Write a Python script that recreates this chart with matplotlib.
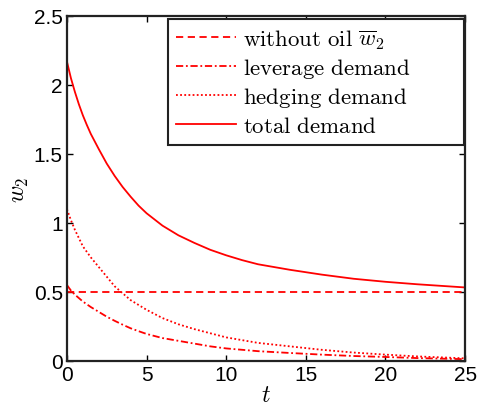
import matplotlib
matplotlib.use('Agg')
import matplotlib.pyplot as plt

plt.rcParams['mathtext.fontset'] = 'cm'
plt.rcParams['font.family'] = ['Liberation Sans', 'DejaVu Sans']

# time grid and demand components
t = [0, 0.25, 0.5, 0.75, 1, 1.25, 1.5, 2, 2.5, 3, 3.5, 4, 4.5, 5, 6, 7, 8, 9, 10,
     11, 12, 14, 16, 18, 20, 22, 25]
w_bar = [0.5] * len(t)
leverage = [0.55, 0.51, 0.48, 0.455, 0.43, 0.41, 0.39, 0.355, 0.32, 0.29, 0.262, 0.236,
            0.215, 0.195, 0.165, 0.145, 0.125, 0.105, 0.09, 0.08, 0.07, 0.057, 0.045,
            0.035, 0.028, 0.02, 0.012]
hedging = [1.1, 1.02, 0.95, 0.89, 0.83, 0.79, 0.75, 0.68, 0.61, 0.54, 0.49, 0.44,
           0.405, 0.37, 0.31, 0.265, 0.23, 0.2, 0.17, 0.15, 0.13, 0.105, 0.08,
           0.06, 0.045, 0.032, 0.018]
total = [2.17, 2.05, 1.95, 1.86, 1.78, 1.71, 1.645, 1.535, 1.43, 1.34, 1.26, 1.19,
         1.125, 1.07, 0.98, 0.91, 0.855, 0.805, 0.765, 0.73, 0.70, 0.66, 0.625,
         0.595, 0.573, 0.555, 0.532]

fig = plt.figure(figsize=(4.78, 4.14), dpi=100)
ax = fig.add_axes([0.140, 0.126, 0.833, 0.833])

ax.plot(t, w_bar, color='r', lw=1.3, linestyle=(0, (4, 2.5)), label=r'$\mathrm{without\ oil}\ \overline{w}_2$')
ax.plot(t, leverage, color='r', lw=1.3, linestyle=(0, (4, 1.5, 1, 1.5)), label=r'$\mathrm{leverage\ demand}$')
ax.plot(t, hedging, color='r', lw=1.3, linestyle=(0, (1, 1.3)), label=r'$\mathrm{hedging\ demand}$')
ax.plot(t, total, color='r', lw=1.3, linestyle='-', label=r'$\mathrm{total\ demand}$')

ax.set_xlim(0, 25)
ax.set_ylim(0, 2.5)
ax.set_xticks([0, 5, 10, 15, 20, 25])
ax.set_yticks([0, 0.5, 1, 1.5, 2, 2.5])
ax.set_yticklabels(['0', '0.5', '1', '1.5', '2', '2.5'])
ax.tick_params(direction='in', top=True, right=True, labelsize=15, length=4, width=1, pad=3)
for s in ax.spines.values():
    s.set_linewidth(1.6)
    s.set_color('#222222')

ax.set_xlabel(r'$t$', fontsize=17, labelpad=0)
ax.set_ylabel(r'$w_2$', fontsize=17, labelpad=2)

# wide legend box, entries left-aligned inside it
leg = ax.legend(loc='upper left', bbox_to_anchor=(0.254, 0.0, 0.7435, 0.992), mode='expand',
                fontsize=16.5, handlelength=2.6, handletextpad=0.3,
                labelspacing=0.22, borderpad=0.35, fancybox=False, framealpha=1,
                edgecolor='#222222', borderaxespad=0.0)
leg.get_frame().set_linewidth(1.5)

fig.savefig('out.png', dpi=100)
